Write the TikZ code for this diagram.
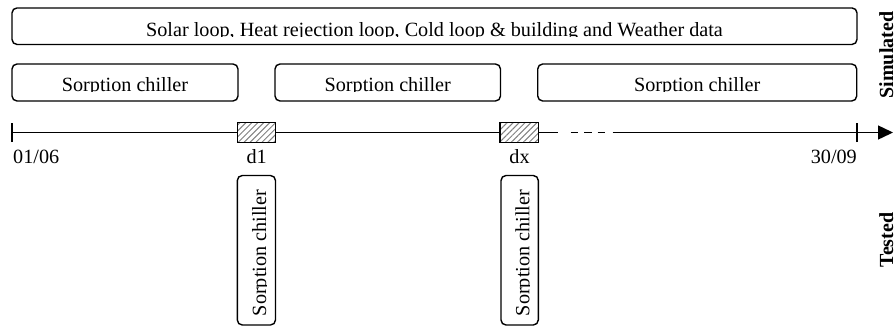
\documentclass[tikz,border=0pt]{standalone}
\usepackage{fontspec}
\setmainfont{Liberation Serif}
\usetikzlibrary{arrows.meta,patterns.meta}
\begin{document}
\begin{tikzpicture}[x=1pt,y=-1pt,
  rbox/.style={draw,line width=1.4pt,rounded corners=5pt,inner sep=0pt},
  lbl/.style={font=\fontsize{20.2}{24}\selectfont,inner sep=0pt},
  side/.style={font=\fontsize{20}{24}\selectfont\bfseries,inner sep=0pt,rotate=90,anchor=base},
  hatchbox/.style={draw,line width=1.4pt,inner sep=0pt,minimum width=38pt,minimum height=19.6pt,
    pattern={Lines[angle=45,distance=4.2pt,line width=1pt]},pattern color=gray},
  axis/.style={line width=1.4pt}]
\useasboundingbox (0,0) rectangle (896,327);

% simulated rows
\node[rbox,minimum width=845pt,minimum height=36.5pt] (top) at (434.5,26.2) {};
\node[rbox,minimum width=226pt,minimum height=37pt] (sa) at (125,82.5) {};
\node[rbox,minimum width=225.5pt,minimum height=37pt] (sb) at (387.75,82.5) {};
\node[rbox,minimum width=319pt,minimum height=37pt] (sc) at (697.2,82.5) {};
\begin{scope}
\clip (0,0) rectangle (896,36.7);
\node[lbl,anchor=base] (toptext) at (434.5,36.7) {Solar loop, Heat rejection loop, Cold loop \& building and Weather data};
\end{scope}
\begin{scope}
\clip (0,50) rectangle (896,91.7);
\node[lbl,anchor=base] (satext) at (125,91.7) {Sorption chiller};
\node[lbl,anchor=base] (sbtext) at (387.75,91.7) {Sorption chiller};
\node[lbl,anchor=base] (sctext) at (697.2,91.7) {Sorption chiller};
\end{scope}

% timeline
\coordinate (t0) at (12,132.5);
\coordinate (t1) at (857,132.5);
\coordinate (tip) at (893,132.5);
\coordinate (g1) at (558,132.5);
\coordinate (g2) at (570.7,132.5);
\coordinate (g3) at (606,132.5);
\coordinate (g4) at (612.7,132.5);
\node[hatchbox] (h1) at (256.7,132.5) {};
\node[hatchbox,minimum width=38.3pt] (hx) at (519.15,132.5) {};
\draw[axis] (t0) -- (h1.west);
\draw[axis] (h1.east) -- (hx.west);
\draw[axis] (hx.east) -- (g1);
\draw[axis,dash pattern=on 7.5pt off 6pt] (g2) -- (g3);
\draw[axis,-{Triangle[length=15pt,width=14pt]}] (g4) -- (tip);
\draw[axis] ([yshift=-9.5pt]t0) -- ([yshift=9.5pt]t0);
\draw[axis] ([yshift=-9.5pt]t1) -- ([yshift=9.5pt]t1);

\node[lbl,anchor=base west] (l0) at (13,163) {01/06};
\node[lbl,anchor=base] (ld1) at (256.7,163) {d1};
\node[lbl,anchor=base] (ldx) at (519.5,163) {dx};
\node[lbl,anchor=base east] (l1) at (857,163) {30/09};

% tested boxes
\node[rbox,minimum width=38.2pt,minimum height=149.5pt] (v1) at (256.4,250.25) {};
\node[rbox,minimum width=37.3pt,minimum height=149.5pt] (vx) at (519.65,250.25) {};
\begin{scope}
\clip (230,170) rectangle (266,327);
\node[lbl,rotate=90,anchor=base] (v1text) at (266,253) {Sorption chiller};
\end{scope}
\begin{scope}
\clip (495,170) rectangle (529.25,327);
\node[lbl,rotate=90,anchor=base] (vxtext) at (529.25,253) {Sorption chiller};
\end{scope}

% side labels
\node[side] (sim) at (893,55) {Simulated};
\node[side] (tst) at (893,240) {Tested};
\end{tikzpicture}
\end{document}
